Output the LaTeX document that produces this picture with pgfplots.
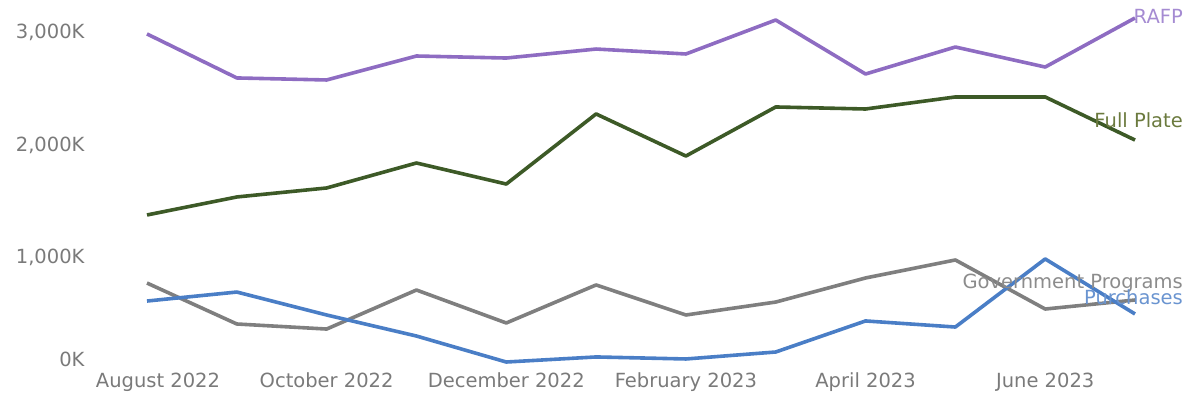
\documentclass[border=0pt]{standalone}
\usepackage{fontspec}
\setmainfont{DejaVu Sans}
\usepackage{pgfplots}
\pgfplotsset{compat=1.18}
\definecolor{tickgray}{HTML}{7A7A7A}
\definecolor{rafp}{HTML}{8E6CC2}
\definecolor{rafplab}{HTML}{A58BD2}
\definecolor{fullplate}{HTML}{3D5A27}
\definecolor{fulllab}{HTML}{6B7A3E}
\definecolor{gov}{HTML}{7F7F7F}
\definecolor{govlab}{HTML}{8C8C8C}
\definecolor{purch}{HTML}{4A7EC6}
\definecolor{purchlab}{HTML}{6A94D0}
\begin{document}
\begin{tikzpicture}[x=1pt,y=1pt]
\begin{axis}[
  scale only axis, width=988pt, height=360pt,
  xmin=0, xmax=11, ymin=0, ymax=3200,
  axis line style={draw=none}, major tick length=0pt,
  clip=false,
  font=\fontsize{19.5}{21}\selectfont,
  tick label style={text=tickgray, font=\fontsize{19.5}{21}\selectfont},
  /pgf/number format/assume math mode=true,
  xtick={2,4,6,8,10},
  xticklabels={October 2022, December 2022, February 2023, April 2023, June 2023},
  extra x ticks={0}, extra x tick labels={August 2022},
  extra x tick style={xticklabel style={xshift=11pt}},
  ytick={1000,2000,3000},
  yticklabels={{1,000K},{2,000K},{3,000K}},
  extra y ticks={0}, extra y tick labels={0K},
  extra y tick style={yticklabel style={yshift=11pt}},
  yticklabel shift=59pt,
  xticklabel shift=-1pt,
  every axis plot/.append style={line width=3.6pt, line join=round},
]
\addplot[rafp, mark=none] coordinates {(0,2987)(1,2596)(2,2578)(3,2791)(4,2773)(5,2853)(6,2809)(7,3111)(8,2631)(9,2871)(10,2693)(11,3129)};
\addplot[fullplate, mark=none] coordinates {(0,1378)(1,1538)(2,1618)(3,1840)(4,1653)(5,2276)(6,1902)(7,2338)(8,2320)(9,2427)(10,2427)(11,2044)};
\addplot[gov, mark=none] coordinates {(0,773)(1,409)(2,364)(3,711)(4,418)(5,756)(6,489)(7,604)(8,818)(9,978)(10,542)(11,622)};
\addplot[purch, mark=none] coordinates {(0,613)(1,693)(2,489)(3,302)(4,71)(5,116)(6,98)(7,160)(8,436)(9,382)(10,987)(11,498)};
\node[anchor=east, text=rafplab, inner sep=0pt] at ([xshift=48pt]axis cs:11,3147) {RAFP};
\node[anchor=east, text=fulllab, inner sep=0pt] at ([xshift=48pt]axis cs:11,2222) {Full Plate};
\node[anchor=east, text=govlab, inner sep=0pt] at ([xshift=48pt]axis cs:11,773) {Government Programs};
\node[anchor=east, text=purchlab, inner sep=0pt] at ([xshift=48pt]axis cs:11,649) {Purchases};
\end{axis}
\pgfresetboundingbox
\useasboundingbox (-147pt,-34pt) rectangle (1041pt,370pt);
\end{tikzpicture}
\end{document}
